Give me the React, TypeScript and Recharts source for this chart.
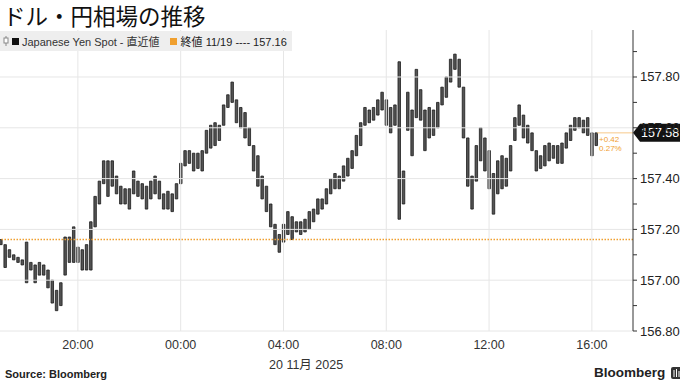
import React from 'react';
import { ComposedChart, Bar, XAxis, YAxis, ReferenceLine } from 'recharts';

// 10-minute bars, 17:00 on 11/19 through 16:10 on 11/20 (hours relative to 11/20 00:00)
const startHour = -7;
const stepHours = 10 / 60;

const highs = [
  157.16, 157.14, 157.12, 157.10, 157.09, 157.08, 157.15, 157.07, 157.06, 157.07,
  157.06, 157.04, 157.00, 156.96, 156.99, 157.17, 157.17, 157.21, 157.13, 157.12,
  157.14, 157.23, 157.33, 157.39, 157.47, 157.47, 157.47, 157.41, 157.37, 157.36,
  157.36, 157.43, 157.39, 157.38, 157.37, 157.39, 157.41, 157.39, 157.34, 157.35,
  157.34, 157.38, 157.46, 157.51, 157.51, 157.50, 157.50, 157.51, 157.59, 157.61,
  157.62, 157.61, 157.69, 157.73, 157.78, 157.71, 157.68, 157.66, 157.60, 157.53,
  157.49, 157.41, 157.37, 157.30, 157.22, 157.18, 157.22, 157.27, 157.25, 157.23,
  157.23, 157.24, 157.27, 157.28, 157.32, 157.32, 157.36, 157.40, 157.42, 157.41,
  157.45, 157.48, 157.51, 157.57, 157.62, 157.68, 157.67, 157.68, 157.71, 157.74,
  157.71, 157.68, 157.69, 157.86, 157.43, 157.74, 157.67, 157.83, 157.75, 157.67,
  157.68, 157.67, 157.70, 157.76, 157.80, 157.87, 157.89, 157.87, 157.76, 157.56,
  157.41, 157.53, 157.60, 157.56, 157.51, 157.42, 157.47, 157.49, 157.48, 157.53,
  157.64, 157.69, 157.65, 157.61, 157.58, 157.51, 157.49, 157.53, 157.54, 157.53,
  157.53, 157.54, 157.58, 157.61, 157.64, 157.64, 157.63, 157.64, 157.58, 157.58,
];

const lows = [
  157.14, 157.05, 157.09, 157.08, 157.07, 157.06, 156.99, 157.04, 156.99, 157.02,
  157.02, 156.97, 156.91, 156.88, 156.90, 157.02, 157.07, 157.07, 157.07, 157.04,
  157.04, 157.04, 157.21, 157.30, 157.38, 157.33, 157.37, 157.34, 157.30, 157.30,
  157.28, 157.34, 157.33, 157.32, 157.28, 157.32, 157.34, 157.32, 157.28, 157.28,
  157.27, 157.32, 157.38, 157.45, 157.46, 157.43, 157.44, 157.43, 157.50, 157.52,
  157.53, 157.55, 157.61, 157.68, 157.70, 157.62, 157.60, 157.56, 157.53, 157.43,
  157.37, 157.32, 157.27, 157.21, 157.14, 157.11, 157.15, 157.18, 157.16, 157.19,
  157.18, 157.19, 157.20, 157.23, 157.26, 157.28, 157.30, 157.34, 157.36, 157.36,
  157.39, 157.41, 157.44, 157.49, 157.53, 157.61, 157.62, 157.63, 157.65, 157.67,
  157.61, 157.58, 157.61, 157.24, 157.30, 157.59, 157.49, 157.64, 157.63, 157.51,
  157.56, 157.57, 157.60, 157.69, 157.72, 157.78, 157.83, 157.76, 157.56, 157.37,
  157.28, 157.39, 157.47, 157.43, 157.36, 157.26, 157.34, 157.36, 157.37, 157.43,
  157.55, 157.61, 157.56, 157.54, 157.51, 157.43, 157.44, 157.45, 157.47, 157.48,
  157.46, 157.46, 157.52, 157.55, 157.59, 157.60, 157.58, 157.57, 157.49, 157.53,
];

const prevClose = 157.16;
const lastPrice = 157.58;
const change = '+0.42';
const changePct = '0.27%';

const xTicks = [-4, 0, 4, 8, 12, 16];
const xTickLabels = ['20:00', '00:00', '04:00', '08:00', '12:00', '16:00'];
const yMajor = [156.8, 157.0, 157.2, 157.4, 157.6, 157.8];
const yMinor = [156.9, 157.1, 157.3, 157.5, 157.7, 157.9];

const FONT = "'Liberation Sans', 'Noto Sans CJK JP', sans-serif";
const GRID = '#e6e6e6';
const ORANGE = '#f0a030';

const data = highs.map((h, i) => ({
  t: startHour + i * stepHours,
  range: [lows[i], h],
}));

const XTick = (props: any) => {
  const { x, y, payload } = props;
  const idx = xTicks.indexOf(payload.value);
  return (
    <text x={x} y={y + 18} textAnchor="middle" fontSize={12.5} fill="#333" fontFamily={FONT}>
      {xTickLabels[idx]}
    </text>
  );
};

const YTick = (props: any) => {
  const { x, y, payload } = props;
  const major = yMajor.some((v) => Math.abs(v - payload.value) < 1e-6);
  return (
    <g>
      <line x1={x} x2={x + 4} y1={y} y2={y} stroke="#333" strokeWidth={1} />
      {major && (
        <text x={x + 7} y={y + 4.5} fontSize={13} fill="#222" fontFamily={FONT}>
          {payload.value.toFixed(2)}
        </text>
      )}
    </g>
  );
};

const LastLabel = (props: any) => {
  const { viewBox } = props;
  const x0 = viewBox.x;
  const x1 = viewBox.x + viewBox.width;
  const y = viewBox.y;
  return (
    <g>
      <text x={x0 + 2} y={y + 9} fontSize={8} fill={ORANGE} fontFamily={FONT}>{change}</text>
      <text x={x0 + 2} y={y + 18} fontSize={8} fill={ORANGE} fontFamily={FONT}>{changePct}</text>
      <path
        d={`M ${x1} ${y} L ${x1 + 7} ${y - 9} L 680 ${y - 9} L 680 ${y + 9} L ${x1 + 7} ${y + 9} Z`}
        fill="#111"
      />
      <text x={x1 + 8} y={y + 4.5} fontSize={12.5} fill="#fff" fontFamily={FONT}>{lastPrice.toFixed(2)}</text>
    </g>
  );
};

export default function App() {
  return (
    <div style={{ position: 'absolute', left: 0, top: 0, width: 680, height: 382, background: '#fff', fontFamily: FONT }}>
      <div style={{ position: 'absolute', left: 3, top: 0, fontSize: 22.5, color: '#111', fontFamily: "'Noto Sans CJK JP', sans-serif", lineHeight: '30px' }}>
        ドル・円相場の推移
      </div>

      <ComposedChart width={680} height={382} data={data} margin={{ top: 30, right: 0, bottom: 0, left: 0 }}>
        {xTicks.map((t) => (
          <ReferenceLine key={'vx' + t} x={t} stroke={GRID} />
        ))}
        {yMajor.map((v) => (
          <ReferenceLine key={'hy' + v} y={v} stroke={GRID} />
        ))}
        <XAxis
          dataKey="t"
          type="number"
          domain={[-7.03, 17.6]}
          ticks={xTicks}
          tick={<XTick />}
          axisLine={false}
          tickLine={false}
          tickSize={0}
          tickMargin={0}
          height={51}
          allowDataOverflow
        />
        <YAxis
          orientation="right"
          type="number"
          domain={[156.8, 157.985]}
          ticks={[...yMajor, ...yMinor].sort((a, b) => a - b)}
          tick={<YTick />}
          axisLine={{ stroke: '#333' }}
          tickLine={false}
          tickSize={0}
          tickMargin={0}
          width={47}
          interval={0}
          allowDataOverflow
        />
        <ReferenceLine y={prevClose} stroke={ORANGE} strokeWidth={1.5} strokeDasharray="1.5 1.5" />
        <Bar dataKey="range" fill="#555" stroke="#1a1a1a" strokeWidth={0.8} barSize={2.5} isAnimationActive={false} />
        <ReferenceLine
          segment={[{ x: 16.2, y: lastPrice }, { x: 17.6, y: lastPrice }]}
          stroke="#f7c98a"
          label={<LastLabel />}
        />
      </ComposedChart>

      <div style={{ position: 'absolute', left: 0, top: 31, width: 292, height: 20, background: '#eeeeee', display: 'flex', alignItems: 'center', fontSize: 11, color: '#333', whiteSpace: 'nowrap' }}>
        <svg width={8} height={12} style={{ marginLeft: 2 }}>
          <line x1={4} y1={1} x2={4} y2={11} stroke="#888" />
          <rect x={2} y={3} width={4} height={5} fill="#fff" stroke="#888" />
        </svg>
        <span style={{ display: 'inline-block', width: 7, height: 7, background: '#111', margin: '0 3px 0 2px' }} />
        <span>Japanese Yen Spot - 直近値</span>
        <span style={{ display: 'inline-block', width: 7, height: 7, background: ORANGE, margin: '0 4px 0 10px' }} />
        <span style={{ color: '#222' }}>終値 11/19 ---- 157.16</span>
      </div>

      <div style={{ position: 'absolute', left: 269, top: 354, fontSize: 12.5, color: '#333', whiteSpace: 'nowrap' }}>
        20 11月 2025
      </div>

      <div style={{ position: 'absolute', left: 5, top: 368, fontSize: 11, fontWeight: 'bold', color: '#222' }}>
        Source: Bloomberg
      </div>
      <div style={{ position: 'absolute', left: 594, top: 365, fontSize: 13.5, fontWeight: 'bold', color: '#222', display: 'flex', alignItems: 'center' }}>
        <span>Bloomberg</span>
        <svg width={12} height={12} style={{ marginLeft: 6 }}>
          <rect x={0} y={0} width={11} height={12} rx={2} fill="#333" />
          <line x1={3} y1={3} x2={3} y2={10} stroke="#fff" strokeWidth={1} />
          <line x1={5.5} y1={2} x2={5.5} y2={10} stroke="#fff" strokeWidth={1} />
          <line x1={8} y1={4} x2={8} y2={10} stroke="#fff" strokeWidth={1} />
        </svg>
      </div>
    </div>
  );
}
